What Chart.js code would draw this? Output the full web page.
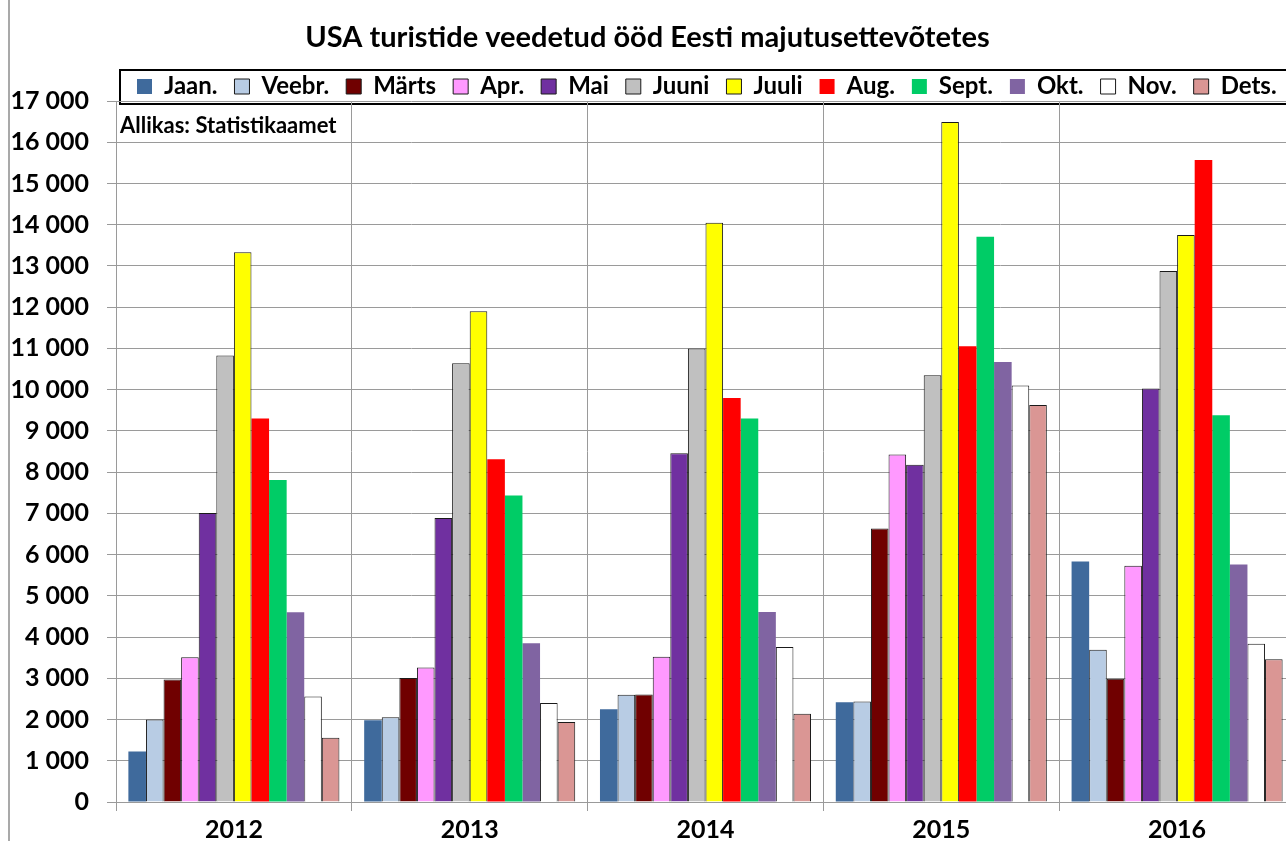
<!DOCTYPE html>
<html>
<head>
<meta charset="utf-8">
<script src="https://cdn.jsdelivr.net/npm/chart.js@4"></script>
<style>
  html, body { margin: 0; padding: 0; background: #fff; overflow: hidden; }
  #wrap { width: 1296px; height: 841px; }
</style>
</head>
<body>
<div id="wrap"><canvas id="myChart" width="1296" height="841"></canvas></div>
<script>
// aastad (x-telg)
var years = ['2012', '2013', '2014', '2015', '2016'];
var months = ['Jaan.', 'Veebr.', 'Märts', 'Apr.', 'Mai', 'Juuni', 'Juuli', 'Aug.', 'Sept.', 'Okt.', 'Nov.', 'Dets.'];

// ööbimised kuude kaupa, 2012..2016
var jaan  = [1225, 1985, 2250, 2420, 5830];
var veebr = [2000, 2055, 2600, 2440, 3690];
var marts = [2970, 3005, 2610, 6630, 2990];
var apr   = [3510, 3260, 3520, 8430, 5730];
var mai   = [7010, 6890, 8460, 8180, 10030];
var juuni = [10830, 10640, 11000, 10350, 12880];
var juuli = [13330, 11900, 14050, 16490, 13750];
var aug   = [9300, 8310, 9800, 11050, 15570];
var sept  = [7810, 7430, 9300, 13710, 9380];
var okt   = [4600, 3850, 4610, 10670, 5760];
var nov   = [2560, 2400, 3760, 10100, 3840];
var dets  = [1560, 1940, 2140, 9630, 3460];

var series = [jaan, veebr, marts, apr, mai, juuni, juuli, aug, sept, okt, nov, dets];
var colors = ['#3F6A9C', '#B8CCE4', '#700000', '#FF99FF', '#7030A0', '#C0C0C0',
              '#FFFF00', '#FF0000', '#00CC66', '#8064A2', '#FFFFFF', '#DA9694'];
var borders = [0, 1, 1, 1, 1, 1, 1, 0, 0, 0, 1, 1];

var FONT = 'Lato';
var GRID = '#9a9a9a';

function fmt(v) {
    return String(v).replace(/\B(?=(\d{3})+(?!\d))/g, ' ');
}

// raam, legendi kast ja allikas
var decor = {
    id: 'decor',
    afterLayout: function(chart) {
        var lg = chart.legend;
        lg.left = 120;
        lg.right = 1296;
        lg.top = 57.5;
    },
    beforeDraw: function(chart) {
        var c = chart.ctx;
        c.save();
        c.strokeStyle = '#8c8c8c';
        c.lineWidth = 1.5;
        c.beginPath();
        c.moveTo(9, 0);
        c.lineTo(9, 841);
        c.stroke();
        // legendi kast
        c.strokeStyle = '#000';
        c.lineWidth = 2;
        c.strokeRect(120, 70, 1180, 34);
        c.restore();
    },
    afterDatasetsDraw: function(chart) {
        var c = chart.ctx;
        c.save();
        // allikas
        c.fillStyle = '#fff';
        c.fillRect(118, 112, 232, 28);
        c.fillStyle = '#000';
        c.font = 'bold 22px ' + FONT;
        c.textBaseline = 'middle';
        c.fillText('Allikas: Statistikaamet', 120, 126);
        c.restore();
    }
};

function draw() {
    var ctx = document.getElementById('myChart').getContext('2d');
    new Chart(ctx, {
        type: 'bar',
        data: {
            labels: years,
            datasets: months.map(function(m, i) {
                return {
                    label: m,
                    data: series[i],
                    backgroundColor: colors[i],
                    borderColor: borders[i] ? '#1a1a1a' : colors[i],
                    borderWidth: borders[i],
                    categoryPercentage: 0.895,
                    barPercentage: 1
                };
            })
        },
        options: {
            responsive: false,
            animation: false,
            layout: { padding: { left: 0, right: 1, top: 0, bottom: 0 } },
            plugins: {
                title: {
                    display: true,
                    text: 'USA turistide veedetud ööd Eesti majutusettevõtetes',
                    color: '#000',
                    font: { family: FONT, size: 29, weight: 'bold', lineHeight: 1.2 },
                    padding: { top: 20, bottom: 6.2 }
                },
                legend: {
                    position: 'top',
                    align: 'start',
                    maxHeight: 40,
                    labels: {
                        color: '#000',
                        font: { family: FONT, size: 24, weight: 'bold' },
                        boxWidth: 15,
                        boxHeight: 15,
                        padding: 17
                    }
                },
                tooltip: { enabled: false }
            },
            scales: {
                x: {
                    grid: { color: GRID, lineWidth: 1, tickLength: 9, offset: true },
                    border: { color: GRID },
                    ticks: {
                        color: '#000',
                        font: { family: FONT, size: 25, weight: 'bold' },
                        padding: 4
                    },
                    afterFit: function(s) { s.height = 39; }
                },
                y: {
                    min: 0,
                    max: 17000,
                    grid: { color: GRID, lineWidth: 1, tickLength: 9 },
                    border: { color: GRID },
                    ticks: {
                        stepSize: 1000,
                        color: '#000',
                        font: { family: FONT, size: 25, weight: 'bold' },
                        padding: 18,
                        callback: function(v) { return fmt(v); }
                    },
                    afterFit: function(s) { s.width = 116; }
                }
            }
        },
        plugins: [decor]
    });
}

if (document.fonts && document.fonts.load) {
    document.fonts.load('bold 25px ' + FONT).then(draw, draw);
} else {
    draw();
}
</script>
</body>
</html>
